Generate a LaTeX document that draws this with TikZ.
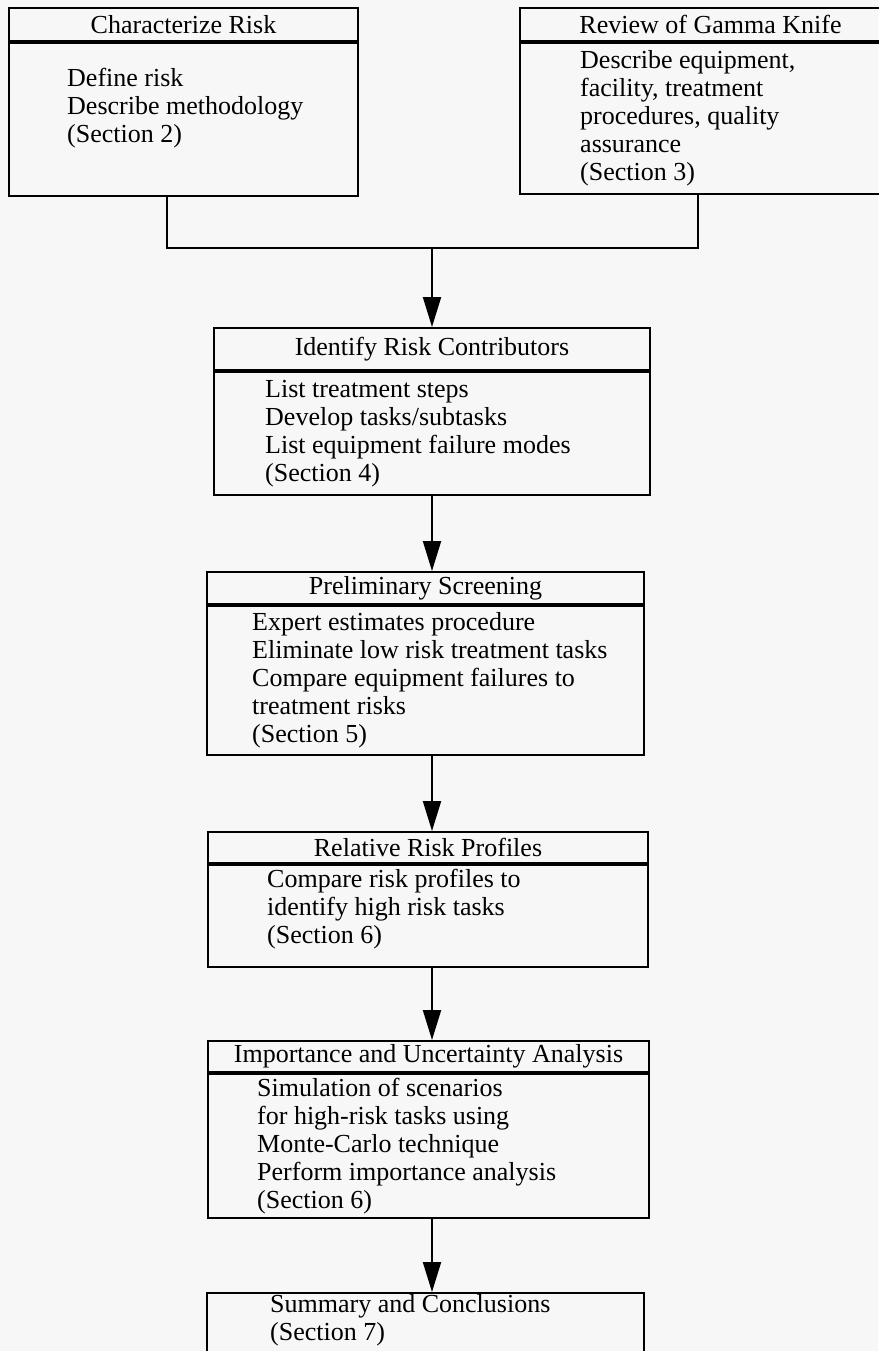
\documentclass[tikz,border=0pt]{standalone}
\usepackage{fontspec}
\setmainfont{Liberation Serif}
\usetikzlibrary{arrows.meta}

\tikzset{
	frame/.style={draw, line width=2pt, inner sep=0pt, anchor=north west, font=\fontsize{26pt}{28pt}\selectfont},
	bodytext/.style={anchor=west, align=left, inner sep=0pt, font=\fontsize{26pt}{28pt}\selectfont},
	flow/.style={line width=2pt, -{Triangle[length=30pt,width=18pt]}},
}

\begin{document}
\begin{tikzpicture}[x=1pt,y=-1pt]
	\fill[black!3] (0,0) rectangle (878,1351);
	\useasboundingbox (0,0) rectangle (878,1351);

	\node[frame, minimum width=349pt, minimum height=33pt] (riskHead) at (8,7) {Characterize Risk};
	\node[frame, minimum width=349pt, minimum height=153pt] (riskBody) at (riskHead.south west) {};
	\node[bodytext] (riskText) at (67,108) {Define risk\\Describe methodology\\(Section 2)};

	\node[frame, minimum width=381pt, minimum height=33pt] (gammaHead) at (519,7) {Review of Gamma Knife};
	\node[frame, minimum width=381pt, minimum height=151pt] (gammaBody) at (gammaHead.south west) {};
	\node[bodytext] (gammaText) at (580,118) {Describe equipment,\\facility, treatment\\procedures, quality\\assurance\\(Section 3)};

	\node[frame, minimum width=436pt, minimum height=42pt] (contribHead) at (213,327) {Identify Risk Contributors};
	\node[frame, minimum width=436pt, minimum height=123pt] (contribBody) at (contribHead.south west) {};
	\node[bodytext] (contribText) at (265,434) {List treatment steps\\Develop tasks/subtasks\\List equipment failure modes\\(Section 4)};

	\node[frame, minimum width=437pt, minimum height=32pt] (screenHead) at (206,571) {Preliminary Screening};
	\node[frame, minimum width=437pt, minimum height=149pt] (screenBody) at (screenHead.south west) {};
	\node[bodytext] (screenText) at (252,680) {Expert estimates procedure\\Eliminate low risk treatment tasks\\Compare equipment failures to\\treatment risks\\(Section 5)};

	\node[frame, minimum width=440pt, minimum height=31pt] (profileHead) at (207,831) {Relative Risk Profiles};
	\node[frame, minimum width=440pt, minimum height=102pt] (profileBody) at (profileHead.south west) {};
	\node[bodytext] (profileText) at (267,909) {Compare risk profiles to\\identify high risk tasks\\(Section 6)};

	\node[frame, minimum width=441pt, minimum height=31pt] (uncertHead) at (207,1040) {Importance and Uncertainty Analysis};
	\node[frame, minimum width=441pt, minimum height=144pt] (uncertBody) at (uncertHead.south west) {};
	\node[bodytext] (uncertText) at (257,1146) {Simulation of scenarios\\for high-risk tasks using\\Monte-Carlo technique\\Perform importance analysis\\(Section 6)};

	\node[frame, minimum width=437pt, minimum height=100pt] (summary) at (206,1292) {};
	\node[bodytext] (summaryText) at (270,1320) {Summary and Conclusions\\(Section 7)};

	\coordinate (leftTurn) at (167,248);
	\coordinate (rightTurn) at (698,248);
	\draw[line width=2pt] (riskBody.south -| leftTurn) -- (leftTurn) -- (rightTurn) -- (rightTurn |- gammaBody.south);
	\draw[flow] (contribHead.north |- leftTurn) -- (contribHead.north);

	\foreach \from/\to in {contribBody/screenHead, screenBody/profileHead, profileBody/uncertHead, uncertBody/summary}
		\draw[flow] (\from.south -| contribHead.north) -- (\to.north -| contribHead.north);
\end{tikzpicture}
\end{document}
